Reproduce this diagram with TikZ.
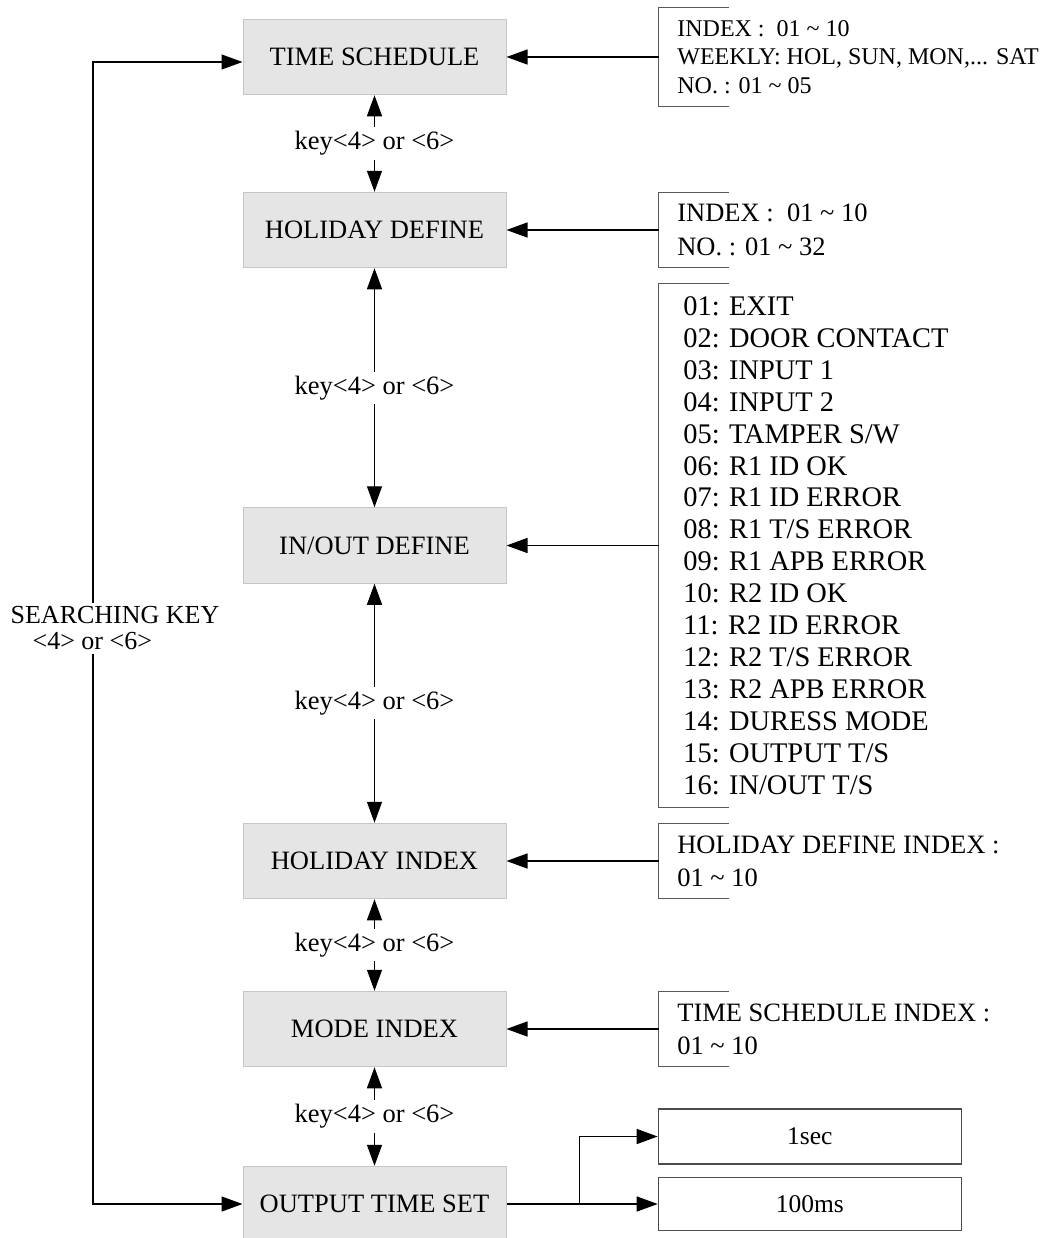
\documentclass[tikz,border=0pt]{standalone}
\usepackage{fontspec}
\setmainfont{Liberation Serif}
\usetikzlibrary{arrows.meta}

\tikzset{
  >={Triangle[length=10.5pt,width=7.5pt]},
  menu/.style={draw=gray!45, fill=gray!20, line width=0.5pt, minimum width=131.5pt, minimum height=37.75pt, font=\fontsize{13.25}{16}\selectfont},
  keylbl/.style={fill=white, inner sep=2pt, font=\fontsize{13.25}{16}\selectfont},
  info/.style={anchor=west, align=left, inner xsep=9pt, inner ysep=0pt, font=\fontsize{13.25}{16.5}\selectfont},
  valbox/.style={draw=black!70, line width=0.6pt, minimum width=151.5pt, font=\fontsize{12.75}{15}\selectfont},
  bracket/.style={draw=black!65, line width=0.6pt},
}

\begin{document}
\begin{tikzpicture}[x=0.5pt, y=-0.5pt, line width=0.65pt]
  \useasboundingbox (0,0) rectangle (1048,1238);
  % menu chain
  \node[menu] (ts)  at (374.5,57)     {TIME SCHEDULE};
  \node[menu] (hd)  at (374.5,230)    {HOLIDAY DEFINE};
  \node[menu] (io)  at (374.5,545.5)  {IN/OUT DEFINE};
  \node[menu] (hi)  at (374.5,861)    {HOLIDAY INDEX};
  \node[menu] (mi)  at (374.5,1029)   {MODE INDEX};
  \node[menu] (ots) at (374.5,1204)   {OUTPUT TIME SET};
  \draw[<->] (ts) -- (hd) node[midway, keylbl] {key<4> or <6>};
  \draw[<->] (hd) -- (io) node[midway, keylbl] {key<4> or <6>};
  \draw[<->] (io) -- (hi) node[midway, keylbl] {key<4> or <6>};
  \draw[<->] (hi) -- (mi) node[midway, keylbl] {key<4> or <6>};
  \draw[<->] (mi) -- (ots) node[midway, keylbl] {key<4> or <6>};
  % searching loop
  \draw[<->] (ots.west) -- ++(-149.5,0) |- ([yshift=-2.5pt]ts.west);
  \node[keylbl, anchor=west, align=left, font=\fontsize{13}{13}\selectfont] (srch) at (6,628.5)
    {SEARCHING KEY\\\hspace*{11pt}<4> or <6>};
  % settings of each menu
  \node[info, minimum height=48.7pt, font=\fontsize{12}{14.25}\selectfont] (tsinfo) at (658.7,57)
    {INDEX :\ \ 01 \textasciitilde\ 10\\WEEKLY: HOL, SUN, MON,... SAT\\NO. : 01 \textasciitilde\ 05};
  \node[info, minimum height=37pt, font=\fontsize{13.25}{17}\selectfont] (hdinfo) at (658.7,230)
    {INDEX :\ \ 01 \textasciitilde\ 10\\NO. : 01 \textasciitilde\ 32};
  \node[info, minimum height=261pt, inner xsep=12pt, font=\fontsize{14.2}{15.95}\selectfont] (ioinfo) at (658.7,545.5)
    {01: EXIT\\02: DOOR CONTACT\\03: INPUT 1\\04: INPUT 2\\05: TAMPER S/W\\06: R1 ID OK\\
     07: R1 ID ERROR\\08: R1 T/S ERROR\\09: R1 APB ERROR\\10: R2 ID OK\\11: R2 ID ERROR\\
     12: R2 T/S ERROR\\13: R2 APB ERROR\\14: DURESS MODE\\15: OUTPUT T/S\\16: IN/OUT T/S};
  \node[info, minimum height=37pt] (hiinfo) at (658.7,861)
    {HOLIDAY DEFINE INDEX :\\01 \textasciitilde\ 10};
  \node[info, minimum height=37pt] (miinfo) at (658.7,1029)
    {TIME SCHEDULE INDEX :\\01 \textasciitilde\ 10};
  \foreach \n in {tsinfo,hdinfo,ioinfo,hiinfo,miinfo}
    \draw[bracket] ([xshift=35pt]\n.north west) -- (\n.north west) -- (\n.south west) -- ([xshift=35pt]\n.south west);
  \draw[->] (tsinfo.west) -- (ts.east);
  \draw[->] (hdinfo.west) -- (hd.east);
  \draw[->] (ioinfo.west) -- (io.east);
  \draw[->] (hiinfo.west) -- (hi.east);
  \draw[->] (miinfo.west) -- (mi.east);
  % output time values
  \node[valbox, minimum height=27.5pt] (v1s)  at (809.8,1136.5) {1sec};
  \node[valbox, minimum height=26.5pt] (v100) at (809.8,1204)   {100ms};
  \coordinate (fork) at (579.3,1204);
  \draw[->] (ots.east) -- (v100.west);
  \draw[->] (fork) |- (v1s.west);
\end{tikzpicture}
\end{document}
